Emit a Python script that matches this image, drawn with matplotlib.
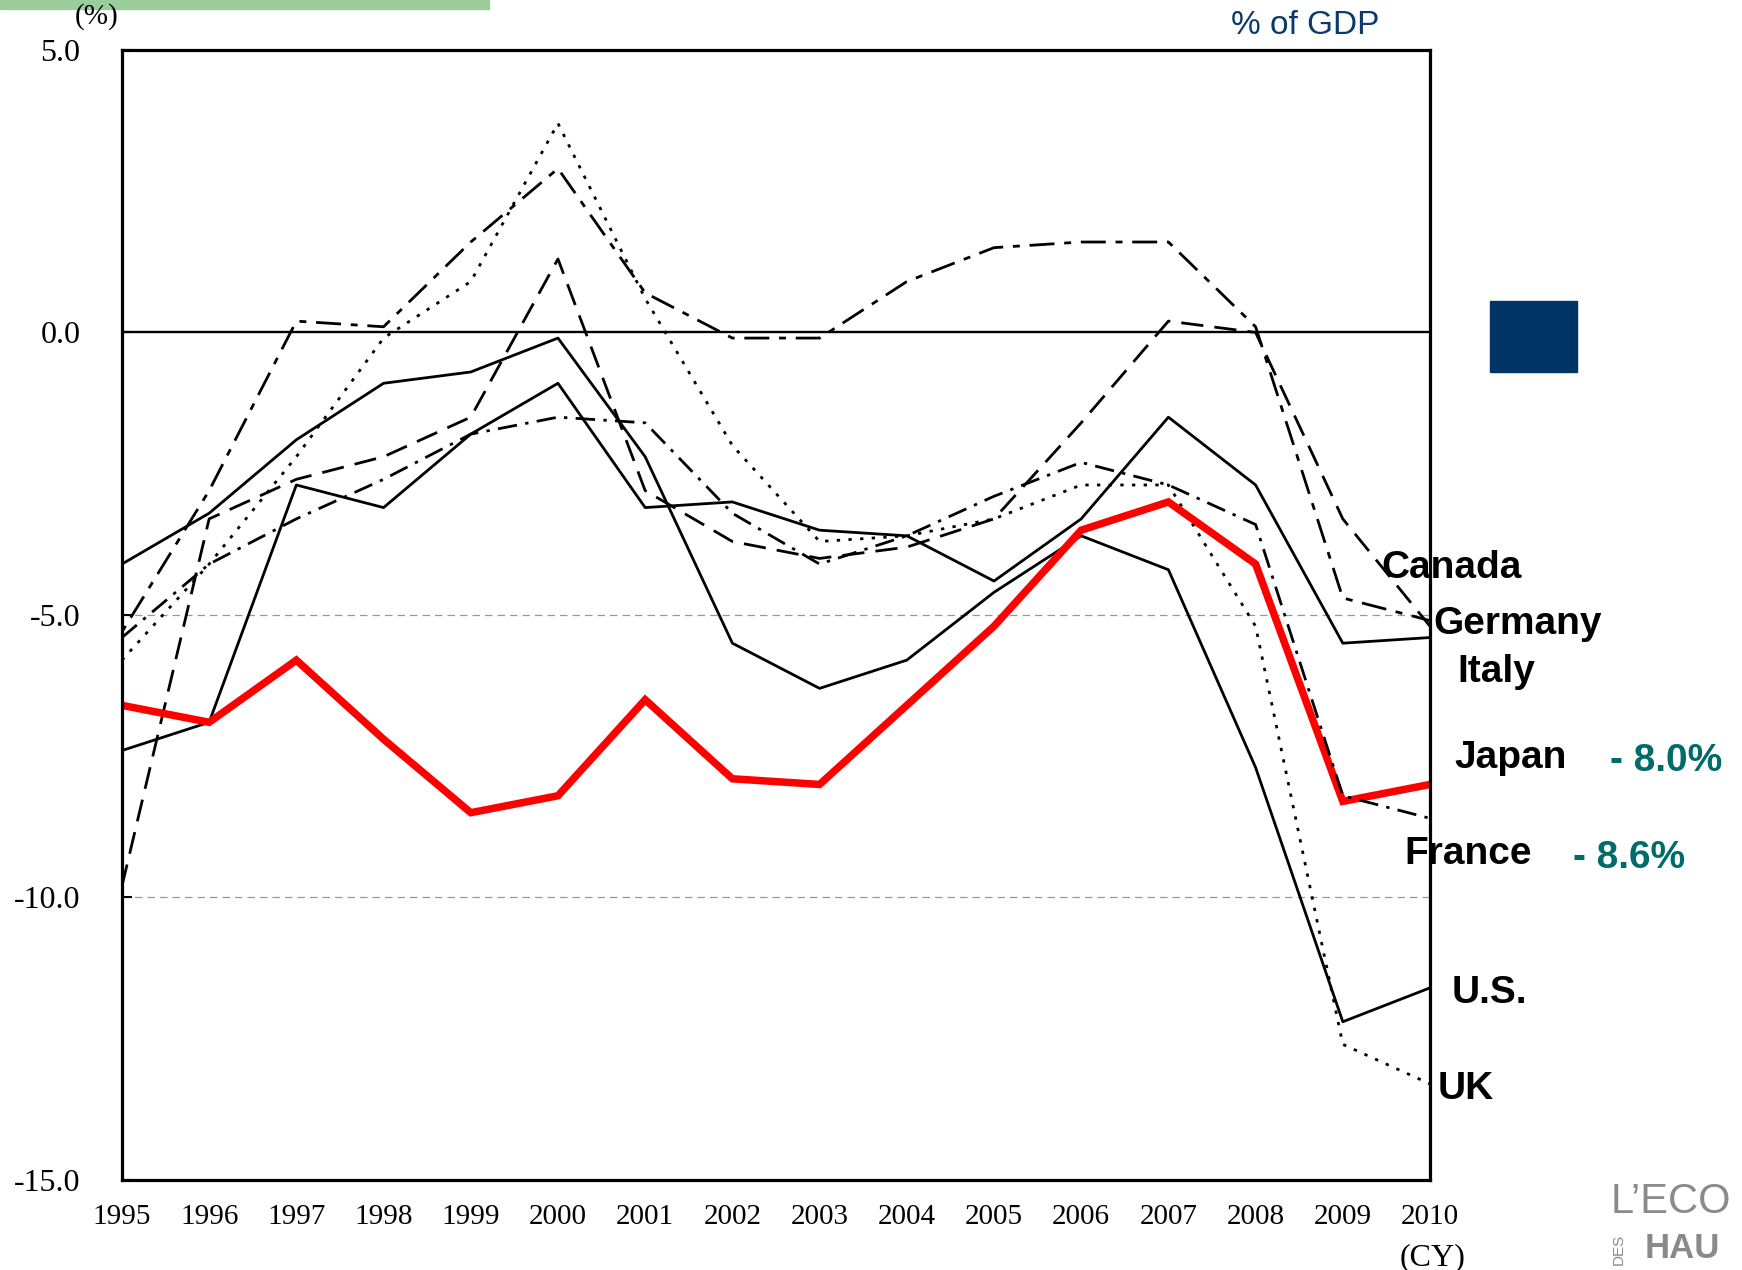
import matplotlib.pyplot as plt
import numpy as np

# general government balance, % of GDP
years = list(range(1995, 2011))
canada = [-5.3, -2.8, 0.2, 0.1, 1.6, 2.9, 0.7, -0.1, -0.1, 0.9, 1.5, 1.6, 1.6, 0.1, -4.7, -5.1]
germany = [-9.8, -3.3, -2.6, -2.2, -1.5, 1.3, -2.8, -3.7, -4.0, -3.8, -3.3, -1.6, 0.2, 0.0, -3.3, -5.2]
italy = [-7.4, -6.9, -2.7, -3.1, -1.8, -0.9, -3.1, -3.0, -3.5, -3.6, -4.4, -3.3, -1.5, -2.7, -5.5, -5.4]
japan = [-6.6, -6.9, -5.8, -7.2, -8.5, -8.2, -6.5, -7.9, -8.0, -6.6, -5.2, -3.5, -3.0, -4.1, -8.3, -8.0]
france = [-5.4, -4.1, -3.3, -2.6, -1.8, -1.5, -1.6, -3.2, -4.1, -3.6, -2.9, -2.3, -2.7, -3.4, -8.2, -8.6]
us = [-4.1, -3.2, -1.9, -0.9, -0.7, -0.1, -2.2, -5.5, -6.3, -5.8, -4.6, -3.6, -4.2, -7.7, -12.2, -11.6]
uk = [-5.8, -4.1, -2.2, -0.1, 0.9, 3.7, 0.6, -2.0, -3.7, -3.6, -3.3, -2.7, -2.7, -5.2, -12.6, -13.3]

yticks = [5, 0, -5, -10, -15]
ytick_labels = ["5.0", "0.0", "-5.0", "-10.0", "-15.0"]

fig = plt.figure(figsize=(17.42, 12.70), dpi=100)
ax = fig.add_axes([0.070, 0.0709, 0.7509, 0.8898])

lw = 2.0
ax.axhline(0, color='black', lw=1.7, zorder=1)
for g in [-5, -10]:
    ax.axhline(g, color='#999999', lw=0.9, ls=(0, (6, 4)), zorder=1)

ax.plot(years, canada, color='black', lw=lw, ls=(0, (2.5, 3.5, 9, 3.5)))
ax.plot(years, germany, color='black', lw=lw, ls=(0, (8, 4)))
ax.plot(years, italy, color='black', lw=lw)
ax.plot(years, us, color='black', lw=lw)
ax.plot(years, uk, color='black', lw=lw, ls=(0, (1.2, 3)))
ax.plot(years, japan, color='#ff0000', lw=5.4, solid_joinstyle='miter')
ax.plot(years, france, color='black', lw=lw, ls=(0, (7, 3, 1.2, 3)))

ax.set_xlim(1995, 2010)
ax.set_ylim(-15, 5)
ax.set_xticks(years)
ax.set_xticklabels([str(y) for y in years], family='Liberation Serif', fontsize=21)
ax.set_yticks(yticks)
ax.set_yticklabels(ytick_labels, family='Liberation Serif', fontsize=23)
ax.tick_params(axis='x', length=0, pad=17)
ax.tick_params(axis='y', direction='in', length=7, width=1.5, pad=30)
for s in ax.spines.values():
    s.set_linewidth(2.3)

# country labels
lab = dict(fontsize=28, fontweight='bold', family='Liberation Sans', va='center', color='black')
fig.text(0.7928, 0.5528, "Canada", **lab)
fig.text(0.8226, 0.5087, "Germany", **lab)
fig.text(0.8364, 0.4709, "Italy", **lab)
fig.text(0.8347, 0.4031, "Japan", **lab)
fig.text(0.8060, 0.3276, "France", **lab)
fig.text(0.8335, 0.2181, "U.S.", **lab)
fig.text(0.8255, 0.1425, "UK", **lab)

val = dict(fontsize=28, fontweight='bold', family='Liberation Sans', va='center', color='#006b6b')
fig.text(0.9242, 0.4008, "- 8.0%", **val)
fig.text(0.9030, 0.3244, "- 8.6%", **val)

fig.text(0.8226, 0.0094, "(CY)", family='Liberation Serif', fontsize=23, ha='center', va='center')
fig.text(0.0557, 0.9866, "(%)", family='Liberation Serif', fontsize=21, ha='center', va='center')
fig.text(0.7491, 0.9803, "% of GDP", family='Liberation Sans', fontsize=24, ha='center', va='center',
         color='#0a3a6b')

# decorations from the slide (logo kept inside the canvas)
fig.patches.append(plt.Rectangle((0.8553, 0.7071), 0.0500, 0.0559, transform=fig.transFigure,
                                 color='#003366', zorder=0))
fig.patches.append(plt.Rectangle((0.0, 0.9929), 0.2807, 0.0071, transform=fig.transFigure,
                                 color='#9bcd9b', zorder=0))
fig.text(0.9248, 0.0380, "L\u2019ECO", family='Liberation Sans', fontsize=30, color='#8a8a8a',
         va='bottom', ha='left')
fig.text(0.9440, 0.0040, "HAU", family='Liberation Sans', fontsize=25, fontweight='bold',
         color='#8a8a8a', va='bottom', ha='left')
fig.text(0.9255, 0.0040, "DES", family='Liberation Sans', fontsize=11, color='#8a8a8a',
         va='bottom', ha='left', rotation=90)

fig.savefig('out.png', dpi=100)
